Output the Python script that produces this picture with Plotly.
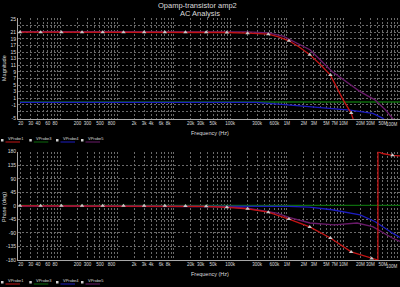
import math
import plotly.graph_objects as go

# ---------------- data ----------------
series_names = ["VProbe1", "VProbe3", "VProbe4", "VProbe5"]
series_colors = ["#c41414", "#0d6b0d", "#1c1cc0", "#6a1a6a"]

# VProbe1 (red) magnitude
red_mag_f = [19.3, 44.7, 104, 241, 559, 1300, 3010, 7000, 16200, 37700, 87400,
             203000, 471000, 716000, 1090000, 1660000, 2540000, 3870000, 5890000,
             9900000, 13700000, 16000000]
red_mag_v = [21.0, 21.0, 21.0, 21.0, 21.0, 21.0, 21.0, 21.0, 21.0, 21.0, 20.9,
             20.7, 20.4, 19.6, 18.4, 16.5, 14.2, 11.3, 8.0,
             0.5, -3.5, -7.0]
red_mag_marker_idx = [0, 1, 2, 3, 4, 5, 6, 7, 8, 9, 10, 11, 12, 14, 16, 18, 20]

# VProbe3 (green) magnitude
grn_mag_f = [19.3, 100000000]
grn_mag_v = [-0.15, -0.15]

# VProbe4 (blue) magnitude
blu_mag_f = [19.3, 293000, 1700000, 13000000, 33000000, 50000000, 60000000]
blu_mag_v = [-0.25, -0.25, -1.3, -2.6, -3.6, -5.1, -6.5]

# VProbe5 (purple) magnitude
pur_mag_f = [19.3, 203000, 471000, 855000, 2560000, 6300000, 19700000, 36000000,
             55000000, 80000000]
pur_mag_v = [21.2, 21.1, 20.8, 19.8, 15.7, 9.1, 3.0, 0.5, -2.5, -5.8]

# VProbe1 (red) phase (wraps from -180 to +180)
red_ph_f = [19.3, 44.7, 104, 241, 559, 1300, 3010, 7000, 16200, 37700, 87400,
            203000, 471000, 1090000, 2540000, 5890000, 13700000, 31600000,
            40700000, 40800000, 49000000, 73600000, 100000000]
red_ph_v = [0, 0, 0, 0, 0, 0, 0, 0, -0.5, -1.5, -5,
            -10, -21, -44, -70, -107, -153, -175,
            -180, 180, 174, 168, 166]
red_ph_marker_idx = [0, 1, 2, 3, 4, 5, 6, 7, 8, 9, 10, 11, 12, 13, 14, 15, 16, 17, 21]

# VProbe3 (green) phase
grn_ph_f = [19.3, 100000000]
grn_ph_v = [1.5, 1.5]

# VProbe4 (blue) phase
blu_ph_f = [19.3, 300000, 1090000, 2540000, 6300000, 19700000, 36000000, 73000000, 100000000]
blu_ph_v = [0, 0, -2, -4, -13, -30, -52, -90, -105]

# VProbe5 (purple) phase
pur_ph_f = [19.3, 87400, 203000, 471000, 662000, 1090000, 2560000, 6900000,
            17400000, 33000000, 73000000, 100000000]
pur_ph_v = [0, -3, -8, -18, -24, -38, -57, -63, -57, -69, -107, -118]

# x tick labels
x_labels = {20: "20", 30: "30", 40: "40", 60: "60", 80: "80",
            200: "200", 300: "300", 500: "500", 800: "800",
            2000: "2k", 3000: "3k", 4000: "4k", 6000: "6k", 8000: "8k",
            20000: "20k", 30000: "30k", 50000: "50k", 100000: "100k",
            300000: "300k", 600000: "600k", 1000000: "1M", 2000000: "2M",
            3000000: "3M", 5000000: "5M", 7000000: "7M", 10000000: "10M",
            20000000: "20M", 30000000: "30M", 50000000: "50M"}
last_x_label = "100M"
mag_ticks = [-5, -3, -1, 1, 3, 5, 7, 9, 11, 13, 15, 17, 19, 21, 23, 25]
mag_hidden = [23, -3]
ph_ticks = [-180, -135, -90, -45, 0, 45, 90, 135, 180]

# ---------------- layout helpers ----------------
W, H = 400, 287
L, R, T, B = 18, 400, 18, 260


def px_x(x):
    return (x - L) / (R - L)


def px_y(y):
    return (B - y) / (B - T)


grid_vals = []
for k in range(1, 8):
    for n in range(1, 10):
        v = n * 10 ** k
        if v >= 20:
            grid_vals.append(v)
grid_vals.append(10 ** 8)
x_text = [x_labels.get(v, "") for v in grid_vals]

FONT = "Liberation Sans, Arial, sans-serif"
TXT = "#dcdcdc"
GRID = "#6a6a6a"
XT = 4.5

fig = go.Figure()

mag_sets = [(red_mag_f, red_mag_v), (grn_mag_f, grn_mag_v),
            (blu_mag_f, blu_mag_v), (pur_mag_f, pur_mag_v)]
ph_sets = [(red_ph_f, red_ph_v), (grn_ph_f, grn_ph_v),
           (blu_ph_f, blu_ph_v), (pur_ph_f, pur_ph_v)]

order = [1, 2, 3, 0]
for i in order:
    f, v = mag_sets[i]
    fig.add_trace(go.Scatter(x=f, y=v, mode="lines", xaxis="x2", yaxis="y2",
                             line=dict(color=series_colors[i], width=1.3),
                             showlegend=False, hoverinfo="skip"))
for i in order:
    f, v = ph_sets[i]
    fig.add_trace(go.Scatter(x=f, y=v, mode="lines", xaxis="x", yaxis="y",
                             line=dict(color=series_colors[i], width=1.3),
                             showlegend=False, hoverinfo="skip"))

mk = dict(symbol="triangle-up", size=4, color="#c8c8c8")
fig.add_trace(go.Scatter(x=[red_mag_f[i] for i in red_mag_marker_idx],
                         y=[red_mag_v[i] for i in red_mag_marker_idx],
                         mode="markers", xaxis="x2", yaxis="y2", marker=mk,
                         showlegend=False, hoverinfo="skip"))
fig.add_trace(go.Scatter(x=[red_ph_f[i] for i in red_ph_marker_idx],
                         y=[red_ph_v[i] for i in red_ph_marker_idx],
                         mode="markers", xaxis="x", yaxis="y", marker=mk,
                         showlegend=False, hoverinfo="skip"))

xrange_ = [math.log10(17.8), 8.0]

xcommon = dict(type="log", range=xrange_, tickmode="array", tickvals=grid_vals,
               ticktext=x_text, showgrid=True, gridcolor=GRID, griddash="2px,2px",
               gridwidth=1, showline=True, linecolor="#a8a8a8", linewidth=1,
               ticks="", tickfont=dict(size=XT, color=TXT, family=FONT),
               zeroline=False, ticklabeloverflow="allow", domain=[0, 1],
               tickangle=0, automargin=False)

ycommon = dict(showgrid=True, gridcolor=GRID, griddash="2px,2px", gridwidth=1,
               showline=True, linecolor="#a8a8a8", linewidth=1, ticks="",
               tickfont=dict(size=5, color=TXT, family=FONT), zeroline=False,
               tickmode="array", ticklabeloverflow="allow", automargin=False,
               tickangle=0)

fig.update_layout(
    template="none",
    width=W, height=H,
    margin=dict(l=L, r=W - R, t=T, b=H - B, pad=0),
    paper_bgcolor="#000000", plot_bgcolor="#000000",
    xaxis=dict(anchor="y", **xcommon),
    xaxis2=dict(anchor="y2", **xcommon),
    yaxis=dict(domain=[0, px_y(151.7)], range=[-180, 180], tickvals=ph_ticks,
               ticktext=[str(t) for t in ph_ticks], anchor="x", **ycommon),
    yaxis2=dict(domain=[px_y(119), 1], range=[-5.3, 25.3], tickvals=mag_ticks,
                ticktext=["" if t in mag_hidden else str(t) for t in mag_ticks],
                anchor="x2", **ycommon),
    showlegend=False,
)

ann = []


def text(x, y, s, size, angle=0, xanchor="center"):
    ann.append(dict(x=px_x(x), y=px_y(y), xref="paper", yref="paper", text=s,
                    showarrow=False, textangle=angle, xanchor=xanchor,
                    yanchor="middle", font=dict(size=size, color=TXT, family=FONT)))


text(197.5, 5.5, "Opamp-transistor amp2", 7.5)
text(199.5, 13.5, "AC Analysis", 7.5)
text(4, 68, "Magnitude", 5.5, angle=-90)
text(4, 207, "Phase (deg)", 5.5, angle=-90)
text(210, 133, "Frequency (Hz)", 5.5)
text(210, 273.5, "Frequency (Hz)", 5.5)
# last frequency label, kept inside the page edge
text(399.6, 124.0, last_x_label, XT, xanchor="right")
text(399.6, 266.0, last_x_label, XT, xanchor="right")

shapes = []
leg_x = [1, 29.3, 56, 81]
for row_y in (139.5, 281.5):
    for i, name in enumerate(series_names):
        x0 = leg_x[i]
        text(x0 + 4.5, row_y - 1.2, name, 4, xanchor="left")
        shapes.append(dict(type="line", xref="paper", yref="paper",
                           x0=px_x(x0 + 4.5), x1=px_x(x0 + 19), y0=px_y(row_y + 2.5),
                           y1=px_y(row_y + 2.5),
                           line=dict(color=series_colors[i], width=1)))
        shapes.append(dict(type="rect", xref="paper", yref="paper",
                           x0=px_x(x0), x1=px_x(x0 + 2.5), y0=px_y(row_y + 2),
                           y1=px_y(row_y - 0.5), fillcolor="#d0d0d0",
                           line=dict(width=0)))

fig.update_layout(annotations=ann, shapes=shapes)
fig.write_html("out.html")
